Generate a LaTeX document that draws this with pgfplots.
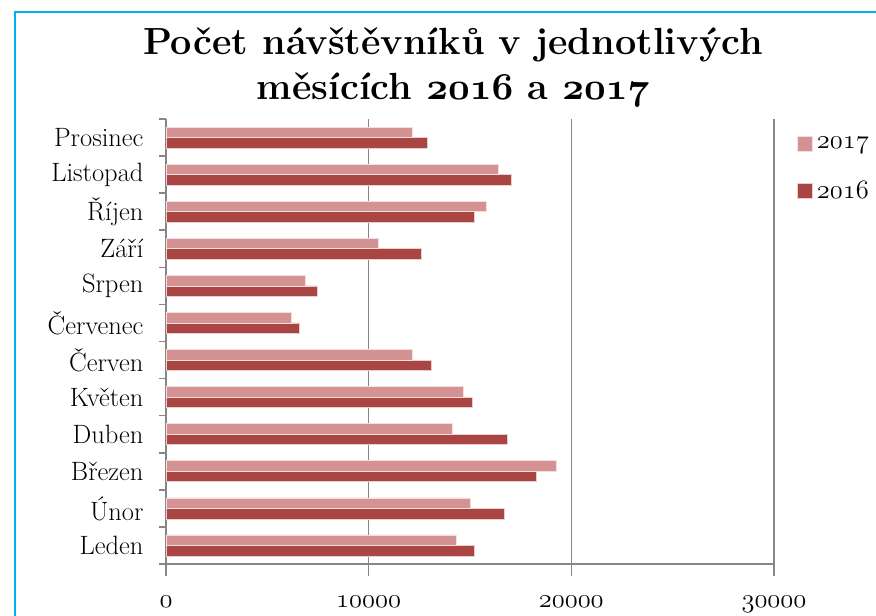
\RequirePackage{fix-cm}
\documentclass[border=0pt]{standalone}
\usepackage{pgfplots}
\pgfplotsset{compat=1.18}
\usetikzlibrary{calc}
\definecolor{cA}{RGB}{212,146,146}
\definecolor{cB}{RGB}{169,70,68}
\definecolor{gridc}{RGB}{134,134,134}
\definecolor{framec}{RGB}{0,176,240}
\pgfplotstableread{
y v2016 v2017
0 15220 14330
1 16710 15000
2 18260 19280
3 16860 14150
4 15100 14680
5 13100 12140
6 6600 6190
7 7490 6880
8 12580 10500
9 15220 15790
10 17040 16410
11 12890 12140
}\datatable
\newcommand{\osn}[1]{{\usefont{OML}{cmm}{m}{it}#1}}
\newcommand{\osnb}[1]{{\usefont{OML}{cmm}{b}{it}#1}}
\begin{document}
\begin{tikzpicture}[x=1pt,y=1pt]
\begin{axis}[
  name=ax,
  scale only axis, width=608pt, height=445pt,
  xbar, bar width=10.5pt,
  xmin=0, xmax=30000, ymin=-0.5, ymax=11.5,
  axis lines*=left,
  axis line style={gridc, line width=1.6pt},
  xmajorgrids, grid style={gridc, line width=1.6pt},
  scaled x ticks=false,
  xtick={0,10000,20000,30000},
  xticklabels={\osn{0},\osn{10000},\osn{20000},\osn{30000}},
  ytick={0,...,11},
  yticklabels={Leden,Únor,Březen,Duben,Květen,Červen,Červenec,Srpen,Září,Říjen,Listopad,Prosinec},
  minor ytick={-0.5,0.5,...,11.5},
  major y tick style={draw=none},
  tick align=outside,
  major tick length=12pt, minor tick length=7pt,
  tick style={gridc, line width=1.6pt},
  tick label style={font=\fontsize{26.5}{30}\selectfont},
  xticklabel style={yshift=-17pt},
  yticklabel style={xshift=-7pt},
  legend style={at={(1.038,0.964)}, anchor=north west, draw=none, fill=none, inner sep=0pt, row sep=27pt, font=\fontsize{26.5}{30}\selectfont, nodes={inner xsep=4pt}},
  legend cell align=left,
  reverse legend,
  legend image code/.code={\fill[#1] (0pt,-7.5pt) rectangle (15pt,7.5pt);},
]
\coordinate (O) at (axis cs:0,-0.5);
\addplot[fill=cB, draw={rgb,255:red,236;green,205;blue,205}, line width=0.6pt, bar shift=-5.25pt] table[x=v2016, y=y] {\datatable};
\addlegendentry{\osn{2016}}
\addplot[fill=cA, draw={rgb,255:red,246;green,222;blue,222}, line width=0.6pt, bar shift=5.25pt] table[x=v2017, y=y] {\datatable};
\addlegendentry{\osn{2017}}
\end{axis}
\pgfresetboundingbox
\coordinate (BL) at ($(O)+(-166,-52)$);
\path[use as bounding box] (BL) rectangle ++(876,616);
\begin{scope}[shift={(BL)}]
\draw[framec, line width=2pt] (15,-5) -- (15,604) -- (880,604);
\draw[gridc, line width=1.6pt] (159,52) -- (166,52);
\node[anchor=base, inner sep=0pt, font=\fontsize{37.8}{42}\selectfont\bfseries] at (453,561) {Počet návštěvníků v jednotlivých};
\node[anchor=base, inner sep=0pt, font=\fontsize{37.8}{42}\selectfont\bfseries] at (453,516) {měsících \osnb{2016} a \osnb{2017}};
\end{scope}
\end{tikzpicture}
\end{document}
